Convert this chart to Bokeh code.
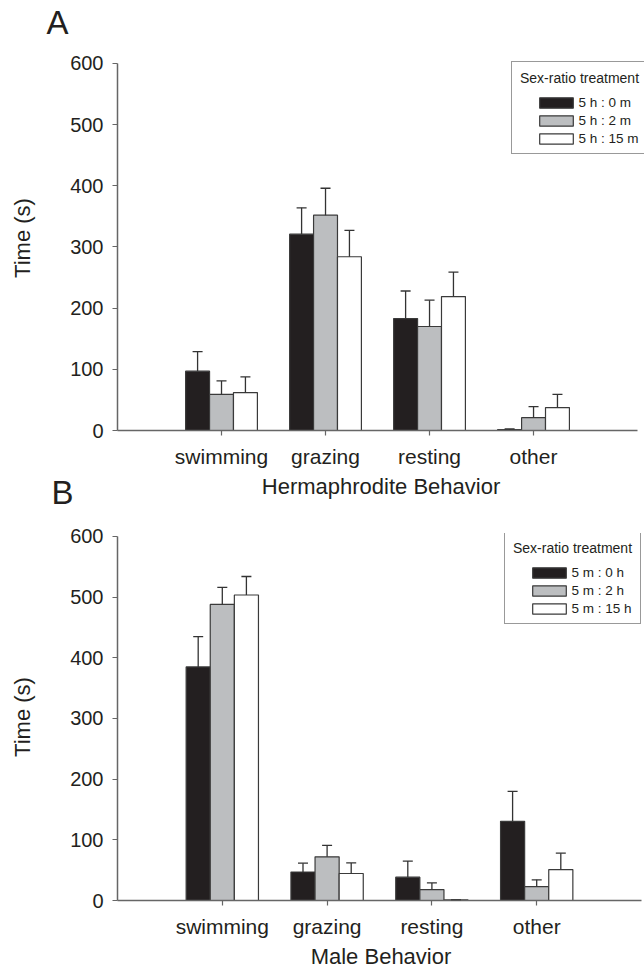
import numpy as np
from bokeh.plotting import figure
from bokeh.models import (Range1d, FixedTicker, ColumnDataSource, Whisker, TeeHead,
                          Legend, LegendItem, Title)
from bokeh.core.properties import value
from bokeh.layouts import column
from bokeh.embed import file_html
from bokeh.resources import INLINE

# ---------------- data ----------------
behaviors = ["swimming", "grazing", "resting", "other"]
y_ticks = [0, 100, 200, 300, 400, 500, 600]
legend_title = "Sex-ratio treatment"

herm_treatments = ["5 h : 0 m", "5 h : 2 m", "5 h : 15 m"]
herm_mean_0m = [97, 321, 183, 1.5]
herm_se_0m = [32, 43, 45, 1]
herm_mean_2m = [59, 352, 170, 21]
herm_se_2m = [22, 44, 43, 18]
herm_mean_15m = [62, 284, 219, 37.5]
herm_se_15m = [25.5, 43, 40, 21.5]

male_treatments = ["5 m : 0 h", "5 m : 2 h", "5 m : 15 h"]
male_mean_0h = [385, 47, 38.5, 130.5]
male_se_0h = [50, 14.5, 26.5, 49.5]
male_mean_2h = [488, 72, 18, 23]
male_se_2h = [28, 19, 11, 11]
male_mean_15h = [503.5, 44.5, 1, 51]
male_se_15h = [30.5, 17.5, 0, 27]

# ---------------- style ----------------
FONT = "Liberation Sans"
TXT = "#231f20"
FILLS = ["#231f20", "#bcbec0", "#ffffff"]
BAR_LINE = "#3a3a3a"
AXIS_COL = "#666666"
BAR_W = 0.23
OFFSETS = [-BAR_W, 0.0, BAR_W]
W = 644
X_MAX = 5
Y_MAX = 600


def make_panel(means, ses, treatments, xlabel, height, fl, axis_right, ft, y600, fb,
               leg_box_left, leg_box_bottom):
    frame_bottom_px = height - fb
    # frame reaches the page edge / a bit above 600 so the legend is not clipped;
    # the axis lines themselves stop at 5 and 600 through their bounds
    x_end = X_MAX * (W - fl) / (axis_right - fl)
    y_end = Y_MAX * (frame_bottom_px - ft) / (frame_bottom_px - y600)
    p = figure(width=W, height=height, x_range=Range1d(0, x_end), y_range=Range1d(0, y_end),
               output_backend="svg", toolbar_location=None,
               min_border_left=fl, min_border_right=0,
               min_border_top=ft, min_border_bottom=fb)
    p.outline_line_color = None
    p.xgrid.visible = False
    p.ygrid.visible = False
    p.background_fill_color = "white"
    p.border_fill_color = "white"

    base = np.arange(1, len(behaviors) + 1)
    renderers = []
    for k in range(3):
        m = np.array(means[k], dtype=float)
        s = np.array(ses[k], dtype=float)
        src = ColumnDataSource(dict(x=base + OFFSETS[k], top=m, upper=m + s))
        r = p.vbar(x="x", top="top", width=BAR_W, bottom=0, source=src,
                   fill_color=FILLS[k], line_color=BAR_LINE, line_width=1.2)
        renderers.append(r)
        wh = Whisker(source=src, base="x", lower="top", upper="upper",
                     dimension="height", line_color="#333333", line_width=1.3,
                     lower_head=None,
                     upper_head=TeeHead(size=10, line_color="#333333", line_width=1.3),
                     level="overlay")
        p.add_layout(wh)

    # axes
    for ax in (p.xaxis[0], p.yaxis[0]):
        ax.axis_line_color = AXIS_COL
        ax.axis_line_width = 1.5
        ax.major_tick_line_color = AXIS_COL
        ax.major_tick_line_width = 1.2
        ax.major_tick_in = 0
        ax.major_tick_out = 5
        ax.minor_tick_in = 0
        ax.minor_tick_out = 0
        ax.major_label_text_font = FONT
        ax.major_label_text_color = TXT
        ax.axis_label_text_font = FONT
        ax.axis_label_text_color = TXT
        ax.axis_label_text_font_style = "normal"
        ax.axis_label_text_font_size = "22px"

    xa = p.xaxis[0]
    xa.ticker = FixedTicker(ticks=list(base))
    xa.major_label_overrides = {int(b): behaviors[i] for i, b in enumerate(base)}
    xa.major_label_text_font_size = "21px"
    xa.major_label_standoff = 9
    xa.axis_label = xlabel
    xa.axis_label_standoff = 3
    xa.bounds = (0, X_MAX)

    ya = p.yaxis[0]
    ya.ticker = FixedTicker(ticks=y_ticks)
    ya.major_label_text_font_size = "20px"
    ya.major_label_standoff = 9
    ya.axis_label = "Time (s)"
    ya.axis_label_standoff = 32
    ya.bounds = (0, Y_MAX)

    # legend: box + title (with invisible rows) and real rows indented
    dummy = p.vbar(x=[], top=[], width=0.1, fill_alpha=0, line_alpha=0)
    pad = 8
    common = dict(glyph_width=42, glyph_height=13, label_height=16, spacing=2,
                  label_text_font=FONT, label_text_font_size="13.5px",
                  label_text_color=TXT, label_standoff=2, margin=0)
    lx = leg_box_left - fl
    ly = frame_bottom_px - leg_box_bottom
    leg1 = Legend(items=[LegendItem(label=value(" "), renderers=[dummy]) for _ in range(3)],
                  location=(lx, ly), title=legend_title,
                  title_text_font=FONT, title_text_font_size="14px",
                  title_text_font_style="normal", title_text_color=TXT,
                  title_standoff=7, padding=pad,
                  border_line_color="#333333", border_line_width=1,
                  background_fill_color="white", background_fill_alpha=1.0,
                  **common)
    leg2 = Legend(items=[LegendItem(label=value(t), renderers=[renderers[i]])
                         for i, t in enumerate(treatments)],
                  location=(lx + 23.5, ly + pad), padding=0,
                  border_line_color=None, background_fill_alpha=0,
                  **common)
    p.add_layout(leg1)
    p.add_layout(leg2)
    return p


def letter(txt, offset, standoff, valign):
    return Title(text=txt, align="left", offset=offset, standoff=standoff,
                 vertical_align=valign, text_font=FONT, text_font_size="33px",
                 text_font_style="normal", text_color=TXT)


HA = 515
pA = make_panel([herm_mean_0m, herm_mean_2m, herm_mean_15m],
                [herm_se_0m, herm_se_2m, herm_se_15m],
                herm_treatments, "Hermaphrodite Behavior",
                height=HA, fl=113, axis_right=637, ft=44, y600=62, fb=HA - 430,
                leg_box_left=507, leg_box_bottom=154)
pA.add_layout(letter("A", 42 - 113, 6, "top"), "above")
pA.add_layout(letter("B", 47 - 113, -56, "top"), "below")

HB = 971 - HA
pB = make_panel([male_mean_0h, male_mean_2h, male_mean_15h],
                [male_se_0h, male_se_2h, male_se_15h],
                male_treatments, "Male Behavior",
                height=HB, fl=117, axis_right=641, ft=533 - HA, y600=536 - HA, fb=971 - 904,
                leg_box_left=504, leg_box_bottom=628 - HA)

layout = column(pA, pB, spacing=0)
open("out.html", "w").write(file_html(layout, INLINE))
